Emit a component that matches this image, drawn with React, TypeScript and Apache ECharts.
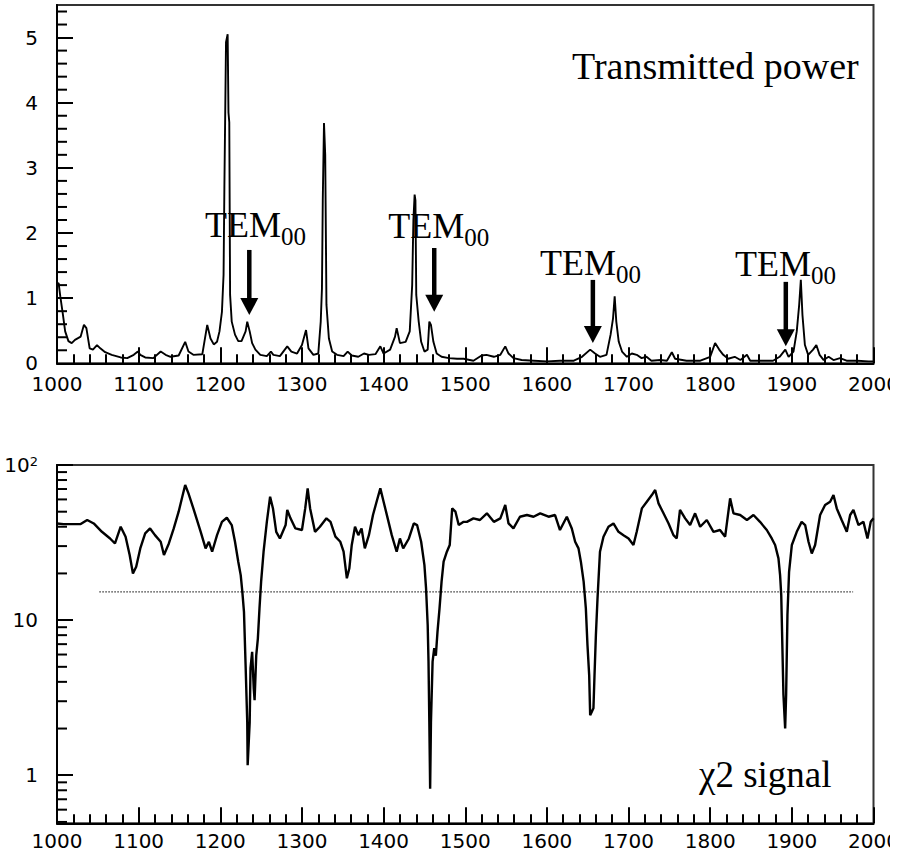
import React, { useEffect, useRef } from "react";
import * as echarts from "echarts";

// ---------- Data: transmitted power (top panel) ----------
const topX = [1000,1002,1004,1007,1010,1014,1018,1022,1029,1033,1036,1040,1044,1049,1053,1059,1067,1078,1086,1094,1099,1102,1108,1118,1127,1133,1139,1149,1157,1161,1167,1178,1184,1188,1192,1196,1199,1202,1204,1205,1207,1209,1210,1211,1212,1214,1218,1222,1226,1231,1233,1236,1239,1243,1249,1257,1262,1265,1273,1282,1287,1294,1300,1305,1308,1314,1320,1323,1324.5,1325.5,1327,1328.5,1330,1333,1337,1343,1351,1356,1361,1369,1376,1382,1390,1396,1400,1408,1414,1416,1420,1427,1432,1435,1436.5,1438,1439,1440,1443,1446,1450,1454,1456,1458,1461,1465,1471,1480,1490,1498,1510,1520,1526,1535,1543,1549,1553,1559,1569,1584,1600,1616,1633,1643,1653,1659,1665,1673,1678,1681,1683,1685,1688,1692,1698,1704,1710,1716,1722,1728,1739,1747,1753,1757,1771,1788,1800,1806,1811,1816,1822,1830,1837,1845,1849,1861,1877,1885,1892,1896,1902,1906,1909,1911,1913,1916,1920,1926,1930,1934,1939,1945,1951,1959,1967,1980,1994,2000];
const topY = [1.22,1.23,1.03,0.77,0.49,0.34,0.31,0.36,0.41,0.59,0.54,0.23,0.21,0.28,0.23,0.17,0.13,0.09,0.08,0.13,0.18,0.13,0.09,0.08,0.18,0.13,0.10,0.12,0.33,0.18,0.13,0.14,0.59,0.38,0.29,0.33,0.49,0.79,1.36,2.7,4.93,5.05,3.85,3.7,1.05,0.64,0.44,0.34,0.34,0.49,0.64,0.49,0.31,0.21,0.13,0.11,0.18,0.13,0.11,0.26,0.18,0.15,0.28,0.51,0.23,0.13,0.15,0.64,1.15,2.5,3.69,3.2,0.9,0.38,0.18,0.13,0.11,0.18,0.12,0.10,0.15,0.13,0.14,0.26,0.15,0.21,0.41,0.54,0.31,0.33,0.49,1.2,2.2,2.59,2.5,1.05,0.64,0.33,0.18,0.21,0.64,0.59,0.33,0.15,0.10,0.08,0.07,0.07,0.04,0.12,0.13,0.10,0.13,0.26,0.15,0.08,0.05,0.04,0.03,0.04,0.04,0.10,0.21,0.15,0.10,0.13,0.44,0.69,1.03,0.64,0.33,0.18,0.10,0.15,0.13,0.08,0.10,0.04,0.05,0.04,0.17,0.07,0.04,0.04,0.10,0.31,0.21,0.13,0.07,0.10,0.05,0.13,0.04,0.04,0.04,0.10,0.21,0.10,0.18,0.49,0.9,1.28,0.74,0.28,0.13,0.21,0.28,0.13,0.05,0.10,0.05,0.08,0.04,0.04,0.03,0.03];

// ---------- Data: chi2 signal (bottom panel) ----------
const botX = [1000,1008,1029,1037,1045,1055,1065,1071,1078,1084,1089,1093,1097,1102,1108,1114,1120,1127,1131,1137,1143,1149,1153,1157,1161,1167,1176,1182,1186,1190,1196,1202,1208,1214,1218,1222,1225,1227,1229,1231,1233,1233.5,1236,1237,1239,1241,1242,1244,1246,1248,1250,1253,1257,1261,1264.5,1268.5,1273,1280,1282,1286,1292,1300,1304,1307,1310,1316,1322,1330,1335,1341,1347,1351,1355,1358,1361,1365,1369,1373,1377,1382,1387,1392,1396,1400,1405,1410,1416,1420,1424,1431,1437,1441,1446,1450,1452,1454,1455,1456,1457,1458,1460,1462,1464,1466,1468.5,1471,1473.5,1477.5,1481,1484,1488,1492,1498,1502,1510,1518,1526.5,1535,1543,1549,1553,1559,1567,1575.5,1583.6,1591.8,1602,1610,1616,1624.4,1630.5,1634.6,1638.7,1641.6,1645,1647.7,1649.7,1651.8,1653,1657,1658.3,1660,1662,1665,1669.3,1675.4,1681.5,1687.7,1693.8,1700,1706,1710,1716.3,1722.4,1728.5,1732.6,1736.7,1742.8,1749,1755,1759,1763,1769.3,1775.4,1781.5,1787.7,1795.8,1804,1812,1818.3,1824.4,1828.5,1836.7,1845,1853,1861,1869.3,1875.4,1879.5,1883.6,1885.6,1887,1888,1889.7,1891.8,1893,1894.6,1896.6,1900,1906,1912,1916.3,1920.4,1924.4,1928.5,1934.6,1940.7,1946.9,1951,1955,1961,1967.3,1971.4,1975.4,1981.6,1987.7,1992.6,1996.6,2000];
const botY = [42,41.6,41.6,44.2,42,37.1,33.6,31.2,40,34.5,26.3,20,22.1,29,36.2,39,35.3,32,26.3,31.2,39,50,61,74.3,65.6,52.5,37.1,29,32,27.6,35.3,43,45.7,41,32,23.8,19.5,15.2,11.3,5.1,2.2,1.16,2.2,4.9,6.25,3.6,3.05,5.9,7.6,11.9,17.7,27.6,43,62.5,52.5,37.1,33.6,41,51.3,45.3,39,38.1,52.5,70.7,52.5,37.1,40,45.3,43,34.5,32,27.6,18.6,21.5,30.5,40,35.3,39,29,35.3,47.6,59.5,70.7,58,45.3,35.3,27.6,33.6,29,33.6,42,41,32,22.6,16,9.3,5.4,2.2,0.82,2.2,5.4,6.6,5.9,8.4,11.9,17.7,23.8,27.6,30.5,52.5,50,41,43,43,45.3,44.2,48.8,43,45.3,55.2,42,39,46.4,47.6,46.4,48.8,46.4,47.6,38.1,46.4,39,32,29,23.8,17.7,11.9,6.9,4.4,2.44,2.7,4.4,8,13.8,27.6,34.5,40,42,37.1,35.3,33.6,30.5,37.1,52.5,58,64,69,56.6,48.8,42,35.3,33.6,51.3,45.3,41,48.8,40,44.2,37.1,38.1,34.5,61,48.8,47.6,44.2,47.6,43,38.1,33.6,30.5,25,19.5,14.5,8.4,3.3,2.0,3.3,10.8,20.5,30.5,37.1,43,41,32,26.9,30.5,47.6,55.2,58,64,52.5,44.2,37.1,47.6,51.3,41,43,33.6,43,45.3];

// threshold (dotted line)
const thresholdValue = 15.2;
const thresholdFrom = 1052;
const thresholdTo = 1975;

// TEM00 arrows (x, top value, tip value) and label anchors
const arrowX = [1235.5, 1462, 1656.3, 1892.6];
const arrowTop = [1.74, 1.77, 1.28, 1.25];
const arrowTip = [0.74, 0.79, 0.31, 0.26];
const labelX = [1181.4, 1405.7, 1591.7, 1830.4];
const labelY = [2.13, 2.11, 1.54, 1.53];

// tick values
const topMinorY = [0.2,0.4,0.6,0.8,1.2,1.4,1.6,1.8,2.2,2.4,2.6,2.8,3.2,3.4,3.6,3.8,4.2,4.4,4.6,4.8,5.2,5.4];
const logMinorY = [0.5,0.6,0.7,0.8,0.9,2,3,4,5,6,7,8,9,20,30,40,50,60,70,80,90];

const AXIS_FONT = "DejaVu Sans";
const SERIF = "Liberation Serif";
const TICK = "#000";

function xAxisOf(gridIndex: number, labelMargin: number) {
  return {
    type: "value",
    gridIndex,
    min: 1000,
    max: 2000,
    interval: 100,
    axisLine: { show: true, onZero: false, lineStyle: { color: "#000", width: 2 } },
    axisTick: { show: true, inside: true, length: 16, lineStyle: { color: TICK, width: 2 } },
    minorTick: { show: true, splitNumber: 5, length: 9, lineStyle: { color: TICK, width: 2 } },
    splitLine: { show: false },
    minorSplitLine: { show: false },
    axisLabel: {
      color: "#000",
      fontFamily: AXIS_FONT,
      fontSize: 20,
      lineHeight: 18,
      margin: labelMargin,
      formatter: (v: number) => String(v),
    },
  };
}

function minorTickSeries(values: number[], axisIndex: number) {
  return {
    type: "custom",
    xAxisIndex: axisIndex,
    yAxisIndex: axisIndex,
    silent: true,
    z: 5,
    data: values.map((v) => [1000, v]),
    encode: { x: 0, y: 1 },
    renderItem: (params: any, api: any) => {
      const p = api.coord([api.value(0), api.value(1)]);
      return {
        type: "line",
        shape: { x1: p[0], y1: p[1], x2: p[0] + 10, y2: p[1] },
        style: { stroke: TICK, lineWidth: 2 },
      };
    },
  };
}

function isPow10(v: number, p: number) {
  return Math.abs(Math.log10(v) - p) < 1e-6;
}

export default function App() {
  const ref = useRef<HTMLDivElement>(null);
  useEffect(() => {
    if (!ref.current) return;
    const chart = echarts.init(ref.current, null, { renderer: "svg" });
    const topData = topX.map((x, i) => [x, topY[i]]);
    const botData = botX.map((x, i) => [x, botY[i]]);
    const arrowData = arrowX.map((x, i) => [x, arrowTop[i], arrowTip[i]]);
    const labelData = labelX.map((x, i) => [x, labelY[i]]);

    const option: any = {
      animation: false,
      backgroundColor: "#fff",
      grid: [
        { left: 57, top: 5, width: 816.5, height: 358.3, outerBoundsMode: "none", containLabel: false, show: true, borderColor: "#333", borderWidth: 2, backgroundColor: "transparent" },
        { left: 57, top: 465, width: 816.5, height: 358.3, outerBoundsMode: "none", containLabel: false, show: true, borderColor: "#333", borderWidth: 2, backgroundColor: "transparent" },
      ],
      xAxis: [xAxisOf(0, 12), xAxisOf(1, 9)],
      yAxis: [
        {
          type: "value",
          gridIndex: 0,
          min: 0,
          max: 5.5,
          interval: 1,
          axisLine: { show: true, lineStyle: { color: "#000", width: 2 } },
          axisTick: { show: true, inside: true, length: 16, lineStyle: { color: TICK, width: 2 } },
          splitLine: { show: false },
          axisLabel: { color: "#000", fontFamily: AXIS_FONT, fontSize: 20, lineHeight: 16, margin: 19, showMaxLabel: false },
        },
        {
          type: "log",
          logBase: 10,
          gridIndex: 1,
          min: 0.49,
          max: 100,
          axisLine: { show: true, lineStyle: { color: "#000", width: 2 } },
          axisTick: { show: true, inside: true, length: 16, lineStyle: { color: TICK, width: 2 } },
          minorTick: { show: false },
          splitLine: { show: false },
          axisLabel: {
            color: "#000",
            fontFamily: AXIS_FONT,
            fontSize: 20,
            margin: 19,
            showMinLabel: false,
            formatter: (v: number) => {
              if (isPow10(v, 0)) return "1";
              if (isPow10(v, 1)) return "10";
              if (isPow10(v, 2)) return "{b|10}{s|2}";
              return "";
            },
            rich: {
              b: { fontFamily: AXIS_FONT, fontSize: 20, color: "#000" },
              s: { fontFamily: AXIS_FONT, fontSize: 13, color: "#000", verticalAlign: "top" },
            },
          },
        },
      ],
      series: [
        {
          type: "line",
          xAxisIndex: 0,
          yAxisIndex: 0,
          data: topData,
          showSymbol: false,
          symbol: "none",
          silent: true,
          lineStyle: { color: "#000", width: 1.9 },
        },
        {
          type: "line",
          xAxisIndex: 1,
          yAxisIndex: 1,
          data: botData,
          showSymbol: false,
          symbol: "none",
          silent: true,
          lineStyle: { color: "#000", width: 2.4 },
        },
        {
          type: "line",
          xAxisIndex: 1,
          yAxisIndex: 1,
          data: [
            [thresholdFrom, thresholdValue],
            [thresholdTo, thresholdValue],
          ],
          showSymbol: false,
          symbol: "none",
          silent: true,
          lineStyle: { color: "#000", width: 1.2, type: [1.2, 1.8] },
        },
        minorTickSeries(topMinorY, 0),
        minorTickSeries(logMinorY, 1),
        {
          type: "custom",
          xAxisIndex: 0,
          yAxisIndex: 0,
          silent: true,
          data: arrowData,
          encode: { x: 0, y: [1, 2] },
          renderItem: (params: any, api: any) => {
            const top = api.coord([api.value(0), api.value(1)]);
            const tip = api.coord([api.value(0), api.value(2)]);
            const headH = 17;
            const headW = 18;
            return {
              type: "group",
              children: [
                {
                  type: "line",
                  shape: { x1: top[0], y1: top[1], x2: tip[0], y2: tip[1] - headH + 1 },
                  style: { stroke: "#000", lineWidth: 4.5 },
                },
                {
                  type: "polygon",
                  shape: {
                    points: [
                      [tip[0] - headW / 2, tip[1] - headH],
                      [tip[0] + headW / 2, tip[1] - headH],
                      [tip[0], tip[1]],
                    ],
                  },
                  style: { fill: "#000" },
                },
              ],
            };
          },
        },
        {
          type: "custom",
          xAxisIndex: 0,
          yAxisIndex: 0,
          silent: true,
          data: labelData,
          encode: { x: 0, y: 1 },
          renderItem: (params: any, api: any) => {
            const p = api.coord([api.value(0), api.value(1)]);
            return {
              type: "group",
              children: [
                {
                  type: "text",
                  x: p[0],
                  y: p[1],
                  style: { text: "TEM", fontFamily: SERIF, fontSize: 36, fill: "#000", align: "left", verticalAlign: "middle" },
                },
                {
                  type: "text",
                  x: p[0] + 76,
                  y: p[1] + 12,
                  style: { text: "00", fontFamily: SERIF, fontSize: 25, fill: "#000", align: "left", verticalAlign: "middle" },
                },
              ],
            };
          },
        },
      ],
      graphic: [
        {
          type: "text",
          left: 572,
          top: 47,
          style: { text: "Transmitted power", fontFamily: SERIF, fontSize: 38, fill: "#000" },
        },
        {
          type: "text",
          left: 699,
          top: 756,
          style: { text: "\u03c72 signal", fontFamily: SERIF, fontSize: 37, fill: "#000" },
        },
      ],
    };
    chart.setOption(option);
    return () => chart.dispose();
  }, []);

  return (
    <div
      ref={ref}
      style={{ position: "absolute", left: 0, top: 0, width: 890, height: 853, overflow: "hidden", background: "#fff" }}
    />
  );
}
